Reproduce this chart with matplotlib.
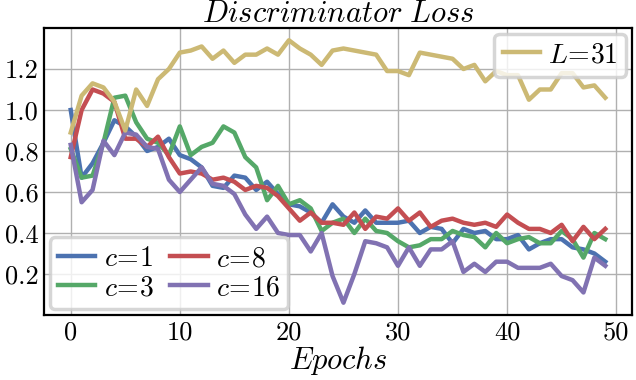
import numpy as np
import matplotlib
matplotlib.use('Agg')
import matplotlib.pyplot as plt

plt.rcParams['font.family'] = 'serif'
plt.rcParams['font.serif'] = ['cmr10']
plt.rcParams['mathtext.fontset'] = 'cm'
plt.rcParams['axes.unicode_minus'] = False

epochs = np.arange(50)

c1 = [1.00, 0.67, 0.74, 0.84, 0.95, 0.92, 0.87, 0.80, 0.82, 0.86,
      0.78, 0.76, 0.72, 0.63, 0.62, 0.68, 0.67, 0.61, 0.65, 0.59,
      0.54, 0.53, 0.50, 0.45, 0.54, 0.48, 0.45, 0.51, 0.45, 0.45,
      0.45, 0.46, 0.40, 0.43, 0.42, 0.35, 0.42, 0.40, 0.41, 0.37,
      0.37, 0.39, 0.32, 0.35, 0.37, 0.37, 0.33, 0.32, 0.30, 0.26]
c3 = [0.81, 0.67, 0.68, 0.84, 1.06, 1.07, 0.94, 0.86, 0.84, 0.78,
      0.92, 0.78, 0.82, 0.84, 0.92, 0.89, 0.77, 0.72, 0.56, 0.63,
      0.54, 0.56, 0.52, 0.41, 0.45, 0.47, 0.40, 0.47, 0.41, 0.40,
      0.36, 0.33, 0.34, 0.37, 0.37, 0.41, 0.39, 0.38, 0.33, 0.40,
      0.35, 0.37, 0.38, 0.35, 0.35, 0.41, 0.37, 0.28, 0.40, 0.37]
c8 = [0.77, 1.00, 1.10, 1.08, 1.04, 0.86, 0.86, 0.82, 0.87, 0.77,
      0.69, 0.70, 0.69, 0.66, 0.67, 0.65, 0.61, 0.63, 0.62, 0.58,
      0.52, 0.46, 0.50, 0.45, 0.45, 0.44, 0.50, 0.42, 0.48, 0.47,
      0.52, 0.46, 0.50, 0.43, 0.46, 0.47, 0.45, 0.44, 0.45, 0.43,
      0.49, 0.45, 0.42, 0.42, 0.40, 0.44, 0.36, 0.43, 0.37, 0.42]
c16 = [0.83, 0.55, 0.61, 0.85, 0.78, 0.89, 0.88, 0.82, 0.81, 0.66,
       0.60, 0.66, 0.72, 0.64, 0.63, 0.59, 0.49, 0.42, 0.48, 0.40,
       0.39, 0.39, 0.31, 0.40, 0.19, 0.06, 0.20, 0.36, 0.35, 0.33,
       0.24, 0.33, 0.24, 0.32, 0.32, 0.36, 0.21, 0.25, 0.21, 0.26,
       0.26, 0.23, 0.23, 0.23, 0.25, 0.19, 0.17, 0.11, 0.28, 0.24]
l31 = [0.89, 1.07, 1.13, 1.11, 1.04, 0.90, 1.10, 1.02, 1.15, 1.20,
       1.28, 1.29, 1.31, 1.25, 1.29, 1.23, 1.27, 1.27, 1.30, 1.27,
       1.34, 1.30, 1.27, 1.22, 1.29, 1.30, 1.29, 1.28, 1.27, 1.19,
       1.19, 1.17, 1.28, 1.27, 1.26, 1.25, 1.20, 1.22, 1.14, 1.19,
       1.17, 1.17, 1.05, 1.10, 1.10, 1.18, 1.18, 1.11, 1.12, 1.06]

blue, green, red, purple, yellow = '#4C72B0', '#55A868', '#C44E52', '#8172B2', '#CCB974'

fig = plt.figure(figsize=(6.36, 3.8), dpi=100)
ax = fig.add_subplot(111)
fig.subplots_adjust(left=44/636, right=632/636, top=1-28/380, bottom=1-315/380)

lw = 3.2
h1, = ax.plot(epochs, c1, color=blue, lw=lw, label=r'$\mathit{c\!=\!1}$')
h3, = ax.plot(epochs, c3, color=green, lw=lw, label=r'$\mathit{c\!=\!3}$')
h8, = ax.plot(epochs, c8, color=red, lw=lw, label=r'$\mathit{c\!=\!8}$')
h16, = ax.plot(epochs, c16, color=purple, lw=lw, label=r'$\mathit{c\!=\!16}$')
hl, = ax.plot(epochs, l31, color=yellow, lw=lw, label=r'$\mathit{L\!=\!31}$')

ax.set_xticks([0, 10, 20, 30, 40, 50])
ax.set_yticks([0.2, 0.4, 0.6, 0.8, 1.0, 1.2])
ax.set_yticklabels(['0.2', '0.4', '0.6', '0.8', '1.0', '1.2'])
ax.set_ylim(0.0, 1.4)
ax.grid(True, color='#b0b0b0', lw=1)
ax.set_axisbelow(True)
ax.tick_params(length=0, labelsize=19, pad=4)
for s in ax.spines.values():
    s.set_color('black')
    s.set_linewidth(1.6)

ax.set_title(r'$\mathit{Discriminator\ Loss}$', fontsize=22, pad=3)
ax.set_xlabel(r'$\mathit{Epochs}$', fontsize=22, labelpad=0)

leg1 = ax.legend(handles=[h1, h3, h8, h16], loc='lower left', ncol=2, fontsize=20,
                 handlelength=1.35, handletextpad=0.3, columnspacing=0.6,
                 labelspacing=0.1, borderpad=0.3, borderaxespad=0.2,
                 fancybox=True, framealpha=0.8)
leg1.get_frame().set_edgecolor('#cccccc')
leg1.get_frame().set_linewidth(2.5)
ax.add_artist(leg1)
leg2 = ax.legend(handles=[hl], loc='upper right', fontsize=20,
                 handlelength=1.35, handletextpad=0.3, borderpad=0.3,
                 borderaxespad=0.2, fancybox=True, framealpha=0.8)
leg2.get_frame().set_edgecolor('#cccccc')
leg2.get_frame().set_linewidth(2.5)

fig.savefig('out.png', dpi=100)
